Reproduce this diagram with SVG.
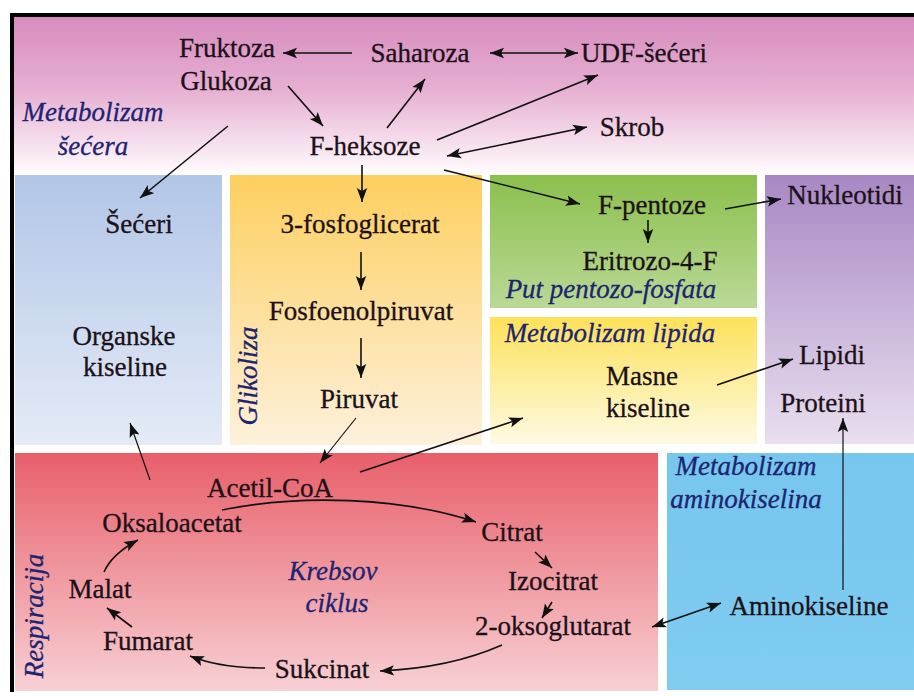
<svg xmlns="http://www.w3.org/2000/svg" width="914" height="696" viewBox="0 0 914 696" font-family="Liberation Serif, Times New Roman, DejaVu Serif, serif">
<defs>
<linearGradient id="gPink" x1="0" y1="0" x2="0" y2="1">
<stop offset="0" stop-color="#d68cbd"/><stop offset="0.45" stop-color="#e6afd2"/><stop offset="0.85" stop-color="#f9e8f2"/><stop offset="1" stop-color="#ffffff"/>
</linearGradient>
<linearGradient id="gBlue" x1="0" y1="0" x2="0" y2="1"><stop offset="0" stop-color="#b2c6e7"/><stop offset="1" stop-color="#e4ebf6"/></linearGradient>
<linearGradient id="gOrange" x1="0" y1="0" x2="0" y2="1"><stop offset="0" stop-color="#fdcf5e"/><stop offset="1" stop-color="#fdf1dc"/></linearGradient>
<linearGradient id="gGreen" x1="0" y1="0" x2="0" y2="1"><stop offset="0" stop-color="#8bbf4c"/><stop offset="1" stop-color="#bad996"/></linearGradient>
<linearGradient id="gYellow" x1="0" y1="0" x2="0" y2="1"><stop offset="0" stop-color="#fde159"/><stop offset="1" stop-color="#fdfae2"/></linearGradient>
<linearGradient id="gPurple" x1="0" y1="0" x2="0" y2="1"><stop offset="0" stop-color="#a888c4"/><stop offset="1" stop-color="#e8dfef"/></linearGradient>
<linearGradient id="gRed" x1="0" y1="0" x2="0" y2="1"><stop offset="0" stop-color="#e85f6a"/><stop offset="1" stop-color="#f7d0d4"/></linearGradient>
<linearGradient id="gCyan" x1="0" y1="0" x2="0" y2="1"><stop offset="0" stop-color="#76c6ee"/><stop offset="1" stop-color="#80ccf1"/></linearGradient>
<marker id="ah" markerUnits="userSpaceOnUse" markerWidth="15" markerHeight="12" refX="14" refY="6" orient="auto-start-reverse" viewBox="0 0 15 12">
<path d="M0,0.8 L14,6 L0,11.2 L3,6 z" fill="#111"/>
</marker>
<style>
text{font-size:27px;fill:#1c1118;stroke:#1c1118;stroke-width:0.3;text-anchor:middle}
text.lab{font-style:italic;fill:#1d2470;stroke:#1d2470}
.c{fill:none;stroke:#111;stroke-width:1.6}
.a{marker-end:url(#ah)}
.d{marker-start:url(#ah);marker-end:url(#ah)}
.t{stroke-width:1.2}
</style>
</defs>

<g id="regions">
<rect x="0" y="0" width="914" height="696" fill="#ffffff"/>
<rect x="14" y="17" width="900" height="160" fill="url(#gPink)"/>
<rect x="15" y="175" width="207" height="270" fill="url(#gBlue)"/>
<rect x="230" y="175" width="252" height="270" fill="url(#gOrange)"/>
<rect x="490" y="175" width="267" height="133" fill="url(#gGreen)"/>
<rect x="490" y="317" width="267" height="127" fill="url(#gYellow)"/>
<rect x="765" y="175" width="149" height="269" fill="url(#gPurple)"/>
<rect x="15" y="453" width="643" height="238" fill="url(#gRed)"/>
<rect x="667" y="453" width="247" height="237" fill="url(#gCyan)"/>
<path d="M12,692 L12,15 L914,15" fill="none" stroke="#000" stroke-width="4"/>
</g>

<g id="labels">
<text class="lab" x="93" y="121">Metabolizam</text>
<text class="lab" x="93" y="155">šećera</text>
<text class="lab" transform="translate(257,376) rotate(-90)">Glikoliza</text>
<text class="lab" x="611" y="298">Put pentozo-fosfata</text>
<text class="lab" x="610" y="342">Metabolizam lipida</text>
<text class="lab" x="746" y="475">Metabolizam</text>
<text class="lab" x="746" y="508">aminokiselina</text>
<text class="lab" x="333" y="580">Krebsov</text>
<text class="lab" x="337" y="612">ciklus</text>
<text class="lab" transform="translate(43,616) rotate(-90)">Respiracija</text>
</g>

<g id="connectors">
<path class="c a" d="M352,53 L283,53"/>
<path class="c d" d="M490,53 L578,53"/>
<path class="c a" d="M288,86 L323,126"/>
<path class="c a" d="M387,128 L425,79"/>
<path class="c a" d="M437,140 L598,75"/>
<path class="c d" d="M447,156 L587,127"/>
<path class="c a" d="M228,126 L140,198"/>
<path class="c a" d="M362,165 L362,202"/>
<path class="c a" d="M444,170 L580,204"/>
<path class="c a" d="M361,252 L361,290"/>
<path class="c a" d="M361,338 L361,378"/>
<path class="c a t" d="M356,418 L320,463"/>
<path class="c a t" d="M150,480 L130,423"/>
<path class="c a" d="M360,472 L523,418"/>
<path class="c a" d="M648,220 L648,243"/>
<path class="c a" d="M725,209 L781,199"/>
<path class="c a" d="M717,385 L793,359"/>
<path class="c a t" d="M843,590 L843,418"/>
<path class="c a" d="M222,510 C300,494 400,497 476,522"/>
<path class="c a" d="M535,552 L552,568"/>
<path class="c a" d="M552,602 L542,618"/>
<path class="c d" d="M652,627 L721,603"/>
<path class="c a" d="M502,645 Q450,668 380,671"/>
<path class="c a" d="M265,668 Q220,668 190,656"/>
<path class="c a" d="M132,627 L107,608"/>
<path class="c a" d="M104,572 Q112,554 138,540"/>
</g>

<g id="fruktoza"><text x="227" y="57">Fruktoza</text></g>
<g id="glukoza"><text x="226" y="90">Glukoza</text></g>
<g id="saharoza"><text x="420" y="62">Saharoza</text></g>
<g id="udf-seceri"><text x="644" y="62">UDF-šećeri</text></g>
<g id="f-heksoze"><text x="365" y="155">F-heksoze</text></g>
<g id="skrob"><text x="632" y="136">Skrob</text></g>
<g id="seceri"><text x="139" y="233">Šećeri</text></g>
<g id="fosfoglicerat"><text x="360" y="233">3-fosfoglicerat</text></g>
<g id="fosfoenolpiruvat"><text x="361" y="320">Fosfoenolpiruvat</text></g>
<g id="piruvat"><text x="359" y="408">Piruvat</text></g>
<g id="organske-kiseline"><text x="124" y="345">Organske</text><text x="125" y="376">kiseline</text></g>
<g id="f-pentoze"><text x="652" y="214">F-pentoze</text></g>
<g id="eritrozo"><text x="650" y="270">Eritrozo-4-F</text></g>
<g id="nukleotidi"><text x="845" y="204">Nukleotidi</text></g>
<g id="masne-kiseline"><text x="642" y="385">Masne</text><text x="648" y="417">kiseline</text></g>
<g id="lipidi"><text x="832" y="364">Lipidi</text></g>
<g id="proteini"><text x="823" y="412">Proteini</text></g>
<g id="acetil-coa"><text x="270" y="497">Acetil-CoA</text></g>
<g id="oksaloacetat"><text x="172" y="532">Oksaloacetat</text></g>
<g id="citrat"><text x="512" y="541">Citrat</text></g>
<g id="izocitrat"><text x="553" y="590">Izocitrat</text></g>
<g id="oksoglutarat"><text x="553" y="635">2-oksoglutarat</text></g>
<g id="aminokiseline"><text x="809" y="615">Aminokiseline</text></g>
<g id="sukcinat"><text x="322" y="678">Sukcinat</text></g>
<g id="fumarat"><text x="148" y="650">Fumarat</text></g>
<g id="malat"><text x="100" y="598">Malat</text></g>
</svg>
